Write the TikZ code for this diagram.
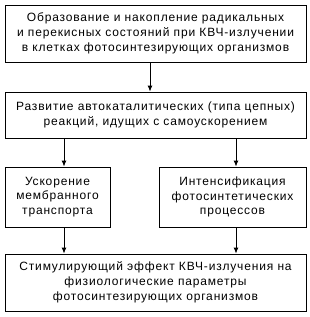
\documentclass[tikz,border=0pt]{standalone}
\usepackage{fontspec}
\setmainfont{Liberation Sans}[LetterSpace=7]
\usetikzlibrary{arrows.meta}
\tikzset{
  kvch box/.style={draw=black, line width=0.9pt, align=center, inner sep=0pt,
    font=\fontsize{12}{14.8}\selectfont},
  kvch arrow/.style={draw=black, line width=0.9pt, -{Latex[length=6pt,width=5pt]}},
}

\begin{document}
\begin{tikzpicture}[x=1pt, y=-1pt]
  \useasboundingbox (0,0) rectangle (310,317);
  % Top row
  \node[kvch box, minimum width=301pt, minimum height=57pt] (form) at (155.5,33.5)
    {Образование и накопление радикальных\\и перекисных состояний при КВЧ-излучении\\в клетках фотосинтезирующих организмов};
  \node[kvch box, minimum width=301pt, minimum height=46pt] (auto) at (155.5,115)
    {Развитие автокаталитических (типа цепных)\\реакций, идущих с самоускорением};
  % Middle row
  \node[kvch box, minimum width=105pt, minimum height=60pt] (memb) at (57.5,197)
    {Ускорение\\мембранного\\транспорта};
  \node[kvch box, minimum width=147pt, minimum height=60pt] (phot) at (232.5,197)
    {Интенсификация\\фотосинтетических\\процессов};
  % Bottom row
  \node[kvch box, minimum width=301pt, minimum height=57pt] (effect) at (155.5,282.5)
    {Стимулирующий эффект КВЧ-излучения на\\физиологические параметры\\фотосинтезирующих организмов};

  \draw[kvch arrow] ([xshift=-5.5pt]form.south) -- ([xshift=-5.5pt]auto.north);
  \draw[kvch arrow] ([xshift=6.5pt]memb.north |- auto.south) -- ([xshift=6.5pt]memb.north);
  \draw[kvch arrow] ([xshift=3.5pt]phot.north |- auto.south) -- ([xshift=3.5pt]phot.north);
  \draw[kvch arrow] ([xshift=6.5pt]memb.south) -- ([xshift=6.5pt]memb.south |- effect.north);
  \draw[kvch arrow] ([xshift=3.5pt]phot.south) -- ([xshift=3.5pt]phot.south |- effect.north);
\end{tikzpicture}
\end{document}
